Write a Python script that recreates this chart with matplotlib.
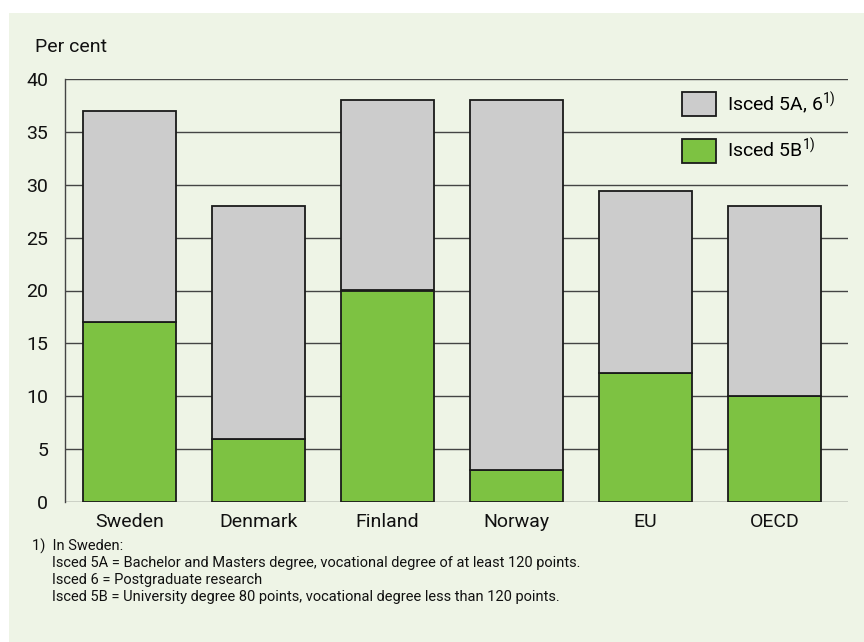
import matplotlib
matplotlib.use("Agg")
import matplotlib.pyplot as plt
from matplotlib.patches import Rectangle, Patch

FONT = "Roboto"
plt.rcParams['font.family'] = [FONT, 'DejaVu Sans']
plt.rcParams['mathtext.fontset'] = 'custom'
plt.rcParams['mathtext.rm'] = FONT
plt.rcParams['mathtext.it'] = FONT

categories = ["Sweden", "Denmark", "Finland", "Norway", "EU", "OECD"]
isced_5b = [17, 6, 20, 3, 12.2, 10]
isced_total = [37, 28, 38, 38, 29.4, 28]
isced_5a6 = [t - b for t, b in zip(isced_total, isced_5b)]
yticks = [0, 5, 10, 15, 20, 25, 30, 35, 40]
footnotes = [
    "1)  In Sweden:",
    "Isced 5A = Bachelor and Masters degree, vocational degree of at least 120 points.",
    "Isced 6 = Postgraduate research",
    "Isced 5B = University degree 80 points, vocational degree less than 120 points.",
]

W, H = 864, 642
fig = plt.figure(figsize=(W / 100, H / 100), dpi=100)
fig.patch.set_facecolor("white")
fig.add_artist(Rectangle((9 / W, 0), 1 - 9 / W, 1 - 13 / H, transform=fig.transFigure,
                         facecolor="#EEF4E6", edgecolor="none", zorder=-10))

ax = fig.add_axes([65 / W, 1 - 502 / H, (848 - 65) / W, (502 - 79) / H])
ax.patch.set_visible(False)

GREEN = "#7DC242"
GREY = "#CCCCCC"
EDGE = "#1A1A1A"
x = list(range(len(categories)))
ax.bar(x, isced_5b, width=0.72, color=GREEN, edgecolor=EDGE, linewidth=1.3, zorder=3)
ax.bar(x, isced_5a6, bottom=isced_5b, width=0.72, color=GREY, edgecolor=EDGE, linewidth=1.3, zorder=3)

ax.set_xlim(-0.5, 5.57)
ax.set_ylim(0, 40)
ax.set_yticks(yticks)
ax.set_xticks(x)
ax.set_xticklabels(categories)
ax.tick_params(axis="both", length=0, labelsize=14, colors="#111111")
ax.tick_params(axis="y", pad=12)
ax.tick_params(axis="x", pad=8)
for t in yticks:
    ax.axhline(t, color="#444444", linewidth=1.0, zorder=1)
for s in ["top", "right", "bottom"]:
    ax.spines[s].set_visible(False)
ax.spines["left"].set_color("#444444")
ax.spines["left"].set_linewidth(1.0)

handles = [Patch(facecolor=GREY, edgecolor=EDGE, linewidth=1.3),
           Patch(facecolor=GREEN, edgecolor=EDGE, linewidth=1.3)]
labels = [r"Isced 5A, 6$^{\mathrm{1)}}$", r"Isced 5B$^{\mathrm{1)}}$"]
ax.legend(handles, labels, loc="upper left", bbox_to_anchor=((682 - 65) / (848 - 65), 1 - 11 / 423),
          frameon=False, fontsize=14, handlelength=1.75, handleheight=1.55,
          labelspacing=1.05, handletextpad=0.55, borderpad=0, borderaxespad=0)

fig.text(35 / W, 1 - 47 / H, "Per cent", fontsize=14, va="center", ha="left", color="#111111")
ys = [546, 563, 580, 597]
xs = [32, 52, 52, 52]
for txt, xx, yy in zip(footnotes, xs, ys):
    fig.text(xx / W, 1 - yy / H, txt, fontsize=10.5, va="center", ha="left", color="#111111")

fig.savefig("out.png", dpi=100)
